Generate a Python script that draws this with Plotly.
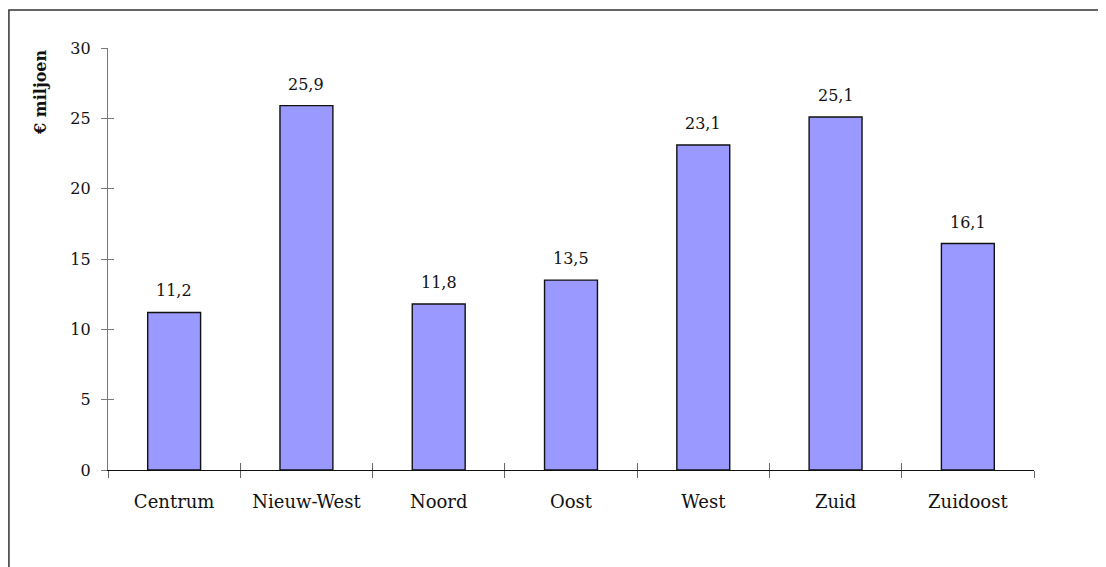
import plotly.graph_objects as go

categories = ["Centrum", "Nieuw-West", "Noord", "Oost", "West", "Zuid", "Zuidoost"]
values = [11.2, 25.9, 11.8, 13.5, 23.1, 25.1, 16.1]
y_ticks = [0, 5, 10, 15, 20, 25, 30]
y_title = "€ miljoen"

FONT = "DejaVu Serif"
n = len(categories)

fig = go.Figure()
fig.add_trace(go.Bar(
    x=categories, y=values,
    marker=dict(color="#9999FF", line=dict(color="#111111", width=1.4)),
    width=0.4, showlegend=False, hoverinfo="skip",
))

for c, v in zip(categories, values):
    fig.add_annotation(
        x=c, y=v, xref="x", yref="y",
        text=f"{v:.1f}".replace(".", ","),
        showarrow=False, yanchor="bottom", yshift=10,
        font=dict(family=FONT, size=16, color="#111111"),
    )

fig.add_annotation(
    x=-0.073, y=1.0, xref="paper", yref="paper",
    text=f"<b>{y_title}</b>", textangle=-90,
    showarrow=False, xanchor="center", yanchor="top",
    font=dict(family=FONT, size=16, color="#111111"),
)

# outer frame
fig.add_shape(type="rect", xref="paper", yref="paper",
              x0=-0.107, x1=1.3, y0=-0.5, y1=1.09,
              line=dict(color="#333333", width=1.5))

fig.update_layout(
    width=1106, height=567,
    margin=dict(l=100, r=80, t=40, b=105),
    paper_bgcolor="white", plot_bgcolor="white",
    font=dict(family=FONT, size=16, color="#111111"),
    xaxis=dict(
        type="category", categoryarray=categories, categoryorder="array",
        range=[-0.5, n - 0.5],
        showline=True, linecolor="#111111", linewidth=1.3,
        ticks="outside", tickson="boundaries", ticklen=7, tickcolor="#666666",
        showgrid=False, zeroline=False, ticklabelstandoff=15,
        tickfont=dict(family=FONT, size=18, color="#111111"),
    ),
    xaxis2=dict(
        overlaying="x", range=[-0.5, n - 0.5], showticklabels=False,
        tickvals=[i - 0.5 for i in range(n + 1)], ticks="inside", ticklen=7,
        tickcolor="#666666", showgrid=False, zeroline=False, showline=False,
    ),
    yaxis=dict(
        range=[0, 30], tickvals=y_ticks,
        showline=True, linecolor="#777777", linewidth=1.3,
        ticks="outside", ticklen=6, tickcolor="#777777",
        showgrid=False, zeroline=False, ticklabelstandoff=7,
        tickfont=dict(family=FONT, size=16, color="#111111"),
    ),
    yaxis2=dict(
        overlaying="y", range=[0, 30], tickvals=y_ticks, showticklabels=False,
        ticks="inside", ticklen=6, tickcolor="#777777",
        showgrid=False, zeroline=False, showline=False,
    ),
)

# invisible helper trace so the overlay axes render their ticks
fig.add_trace(go.Scatter(x=[0], y=[0], xaxis="x2", yaxis="y2", mode="markers",
                         marker=dict(opacity=0), showlegend=False, hoverinfo="skip"))

fig.write_html("out.html")
